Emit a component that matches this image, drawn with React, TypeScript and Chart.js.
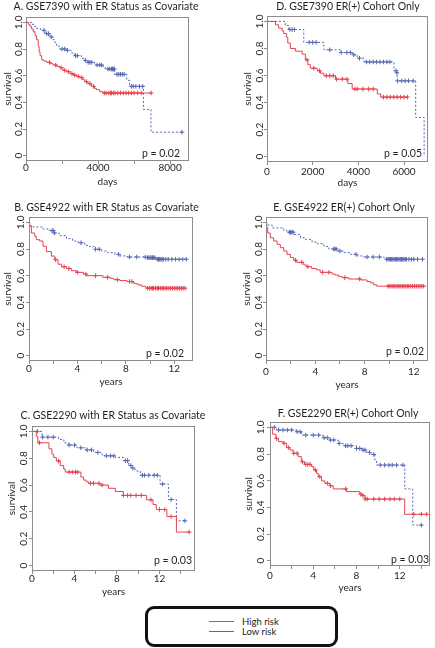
import React, { useEffect, useRef } from "react";
import { Chart, registerables } from "chart.js";

Chart.register(...registerables);

const FONT = "Lato, 'Noto Sans', sans-serif";
const TEXT = "#231f20";
const FRAME = "#8c8c8c";
const RED = "#e8414f";
const BLUE = "#5566b3";

// ---------- Panel A: GSE7390 with ER Status as Covariate (days)
const A_HIGH_T = [0, 130, 220, 310, 400, 500, 590, 680, 730, 780, 870, 960, 1140, 1350, 1510, 1700, 1880, 2050, 2250, 2450, 2620, 2800, 2980, 3150, 3260, 3440, 3630, 3800, 3900, 4090, 4270, 6950];
const A_HIGH_S = [1, 0.985, 0.97, 0.95, 0.93, 0.9, 0.87, 0.82, 0.78, 0.75, 0.72, 0.71, 0.7, 0.69, 0.68, 0.67, 0.66, 0.64, 0.63, 0.615, 0.605, 0.595, 0.585, 0.57, 0.555, 0.54, 0.52, 0.505, 0.495, 0.48, 0.47, 0.47];
const A_HIGH_CENS = [1300, 1650, 1950, 2150, 2350, 2550, 2700, 2900, 3100, 3350, 3550, 3750, 4350, 4450, 4600, 4700, 4750, 4850, 4950, 5100, 5250, 5400, 5550, 5700, 5850, 6000, 6200, 6400, 6950];
const A_LOW_T = [0, 320, 450, 590, 800, 1050, 1330, 1500, 1600, 1700, 1840, 2250, 2500, 2710, 3080, 3250, 3440, 3810, 4270, 4400, 4920, 5600, 5750, 6520, 6940, 8660];
const A_LOW_S = [1, 0.985, 0.97, 0.955, 0.94, 0.915, 0.89, 0.87, 0.85, 0.825, 0.8, 0.79, 0.77, 0.75, 0.73, 0.715, 0.7, 0.68, 0.67, 0.65, 0.61, 0.565, 0.52, 0.347, 0.176, 0.176];
const A_LOW_CENS = [1000, 1150, 1250, 1400, 2000, 2150, 2300, 2750, 2850, 3300, 3450, 3550, 3650, 3950, 4100, 4200, 4550, 4650, 4750, 4800, 4850, 4900, 5050, 5150, 5250, 5350, 5450, 5850, 5950, 6100, 6300, 6480, 8660];

// ---------- Panel D: GSE7390 ER(+) Cohort Only (days)
const D_HIGH_T = [0, 370, 510, 660, 730, 850, 910, 1025, 1245, 1540, 1680, 1790, 1900, 2200, 2340, 2490, 3000, 3540, 3730, 4830, 4980, 6150];
const D_HIGH_S = [1, 0.975, 0.95, 0.93, 0.91, 0.884, 0.84, 0.8, 0.78, 0.758, 0.716, 0.68, 0.654, 0.635, 0.617, 0.598, 0.573, 0.54, 0.5, 0.464, 0.44, 0.44];
const D_HIGH_CENS = [1750, 2050, 2300, 2600, 2750, 2900, 3050, 3300, 3500, 3850, 3950, 4200, 4450, 4650, 5100, 5250, 5400, 5550, 5700, 5850, 6000, 6150];
const D_LOW_T = [0, 800, 950, 1610, 2490, 3220, 3730, 3950, 4245, 5560, 5680, 5700, 6510, 6880];
const D_LOW_S = [1, 0.97, 0.94, 0.845, 0.79, 0.77, 0.753, 0.728, 0.7, 0.635, 0.62, 0.56, 0.29, 0];
const D_LOW_CENS = [1000, 1100, 1200, 1850, 2000, 2150, 2750, 3250, 3500, 3650, 3800, 4050, 4350, 4500, 4650, 4800, 4950, 5100, 5250, 5380, 5650, 5690, 5720, 5900, 6050, 6200, 6400];

// ---------- Panel B: GSE4922 with ER Status as Covariate (years)
const B_HIGH_T = [0, 0.05, 0.2, 0.47, 0.6, 0.88, 1.16, 1.44, 1.85, 2.13, 2.4, 2.68, 3.1, 3.5, 3.9, 4.5, 4.75, 6.1, 6.7, 7.0, 7.5, 8.1, 8.6, 8.75, 9.0, 9.3, 9.6, 9.7, 12.9];
const B_HIGH_S = [1, 0.97, 0.92, 0.896, 0.87, 0.86, 0.82, 0.78, 0.747, 0.72, 0.686, 0.667, 0.654, 0.637, 0.625, 0.612, 0.6, 0.588, 0.58, 0.57, 0.563, 0.556, 0.546, 0.54, 0.531, 0.521, 0.514, 0.506, 0.506];
const B_HIGH_CENS = [2.2, 2.9, 3.3, 4.0, 4.7, 5.5, 6.5, 7.3, 8.3, 8.5, 9.8, 9.95, 10.1, 10.2, 10.3, 10.45, 10.6, 10.7, 10.85, 11.0, 11.1, 11.25, 11.4, 11.55, 11.7, 11.85, 12.0, 12.15, 12.3, 12.45, 12.6, 12.75, 12.9];
const B_LOW_T = [0, 0.05, 0.33, 1.16, 1.7, 2.1, 2.5, 3.1, 3.6, 4.06, 4.6, 5.0, 5.4, 6.0, 6.5, 7.1, 7.5, 8.1, 9.7, 10.55, 13.0];
const B_LOW_S = [1, 0.975, 0.965, 0.95, 0.938, 0.92, 0.9, 0.877, 0.86, 0.847, 0.827, 0.817, 0.798, 0.785, 0.773, 0.76, 0.748, 0.74, 0.735, 0.723, 0.723];
const B_LOW_CENS = [1.9, 2.0, 2.1, 4.3, 5.5, 5.8, 7.4, 8.3, 8.9, 9.6, 9.8, 9.9, 10.0, 10.1, 10.2, 10.3, 10.4, 10.6, 10.7, 10.8, 10.9, 11.0, 11.1, 11.3, 11.5, 11.8, 12.1, 12.4, 12.7, 13.0];

// ---------- Panel E: GSE4922 ER(+) Cohort Only (years)
const E_HIGH_T = [0, 0.05, 0.14, 0.35, 0.62, 0.9, 1.16, 1.44, 1.7, 1.98, 2.25, 2.5, 3.06, 3.3, 3.7, 4.1, 4.4, 5.36, 5.6, 5.9, 6.2, 6.7, 7.7, 8.2, 8.5, 8.75, 9.0, 12.8];
const E_HIGH_S = [1, 0.96, 0.92, 0.884, 0.86, 0.835, 0.81, 0.785, 0.76, 0.736, 0.716, 0.7, 0.68, 0.667, 0.654, 0.644, 0.625, 0.612, 0.605, 0.593, 0.585, 0.575, 0.568, 0.556, 0.546, 0.531, 0.521, 0.521];
const E_HIGH_CENS = [2.4, 2.9, 3.4, 4.6, 5.1, 6.4, 7.6, 9.9, 10.0, 10.15, 10.3, 10.4, 10.55, 10.7, 10.8, 10.95, 11.1, 11.2, 11.35, 11.5, 11.6, 11.75, 11.9, 12.05, 12.2, 12.35, 12.5, 12.65, 12.8];
const E_LOW_T = [0, 0.05, 0.5, 1.44, 1.7, 2.25, 2.8, 3.2, 3.74, 4.14, 4.7, 5.1, 5.8, 6.3, 6.85, 7.4, 7.9, 9.56, 9.8, 12.7];
const E_LOW_S = [1, 0.98, 0.958, 0.94, 0.926, 0.909, 0.884, 0.872, 0.852, 0.84, 0.82, 0.8, 0.785, 0.773, 0.76, 0.748, 0.74, 0.735, 0.723, 0.723];
const E_LOW_CENS = [1.9, 2.0, 2.1, 2.2, 5.5, 5.6, 5.7, 6.0, 7.3, 8.2, 8.7, 9.2, 9.8, 9.9, 10.0, 10.1, 10.2, 10.3, 10.4, 10.5, 10.6, 10.7, 10.8, 10.9, 11.0, 11.1, 11.2, 11.3, 11.4, 11.6, 11.8, 12.0, 12.3, 12.7];

// ---------- Panel C: GSE2290 with ER Status as Covariate (years)
const C_HIGH_T = [0, 0.4, 0.55, 1.6, 1.88, 2.04, 2.29, 2.66, 2.98, 3.13, 4.6, 4.86, 5.1, 5.3, 6.4, 7.2, 7.84, 8.6, 10.8, 11.4, 11.7, 12.7, 13.6, 14.8];
const C_HIGH_S = [1, 0.964, 0.915, 0.87, 0.83, 0.806, 0.78, 0.746, 0.72, 0.697, 0.66, 0.637, 0.625, 0.613, 0.6, 0.576, 0.552, 0.523, 0.49, 0.455, 0.418, 0.366, 0.25, 0.25];
const C_HIGH_CENS = [0.7, 2.5, 3.5, 3.8, 4.1, 4.3, 5.5, 5.8, 6.3, 6.6, 8.6, 9.0, 9.3, 9.8, 10.3, 11.2, 12.0, 12.5, 13.1, 14.8];
const C_LOW_T = [0, 0.94, 2.5, 3.0, 3.45, 4.23, 5.0, 5.8, 6.6, 7.84, 8.6, 9.1, 9.4, 9.7, 10.2, 12.06, 12.85, 13.6, 14.4];
const C_LOW_S = [1, 0.957, 0.94, 0.915, 0.898, 0.878, 0.862, 0.843, 0.818, 0.806, 0.782, 0.746, 0.727, 0.705, 0.673, 0.608, 0.492, 0.334, 0.334];
const C_LOW_CENS = [0.5, 1.0, 1.5, 2.0, 3.5, 4.0, 4.6, 5.2, 5.6, 6.2, 7.0, 7.4, 7.7, 8.8, 9.0, 9.3, 9.5, 10.4, 10.6, 11.0, 11.5, 11.8, 12.3, 13.1, 14.4];

// ---------- Panel F: GSE2290 ER(+) Cohort Only (years)
const F_HIGH_T = [0, 0.25, 0.55, 0.77, 1.23, 1.54, 1.85, 2.15, 2.6, 2.9, 3.2, 3.85, 4.06, 4.3, 4.46, 4.77, 5.08, 5.54, 5.85, 7.08, 8.3, 8.6, 8.8, 12.46, 14.5];
const F_HIGH_S = [1, 0.948, 0.917, 0.893, 0.88, 0.848, 0.83, 0.805, 0.78, 0.742, 0.722, 0.705, 0.68, 0.655, 0.63, 0.598, 0.58, 0.562, 0.538, 0.518, 0.498, 0.488, 0.462, 0.348, 0.348];
const F_HIGH_CENS = [0.6, 1.3, 1.7, 2.2, 2.5, 3.0, 3.3, 3.5, 3.7, 4.2, 4.6, 5.3, 5.6, 7.0, 8.4, 8.6, 8.8, 9.0, 9.6, 10.1, 10.6, 11.1, 11.5, 12.0, 13.3, 14.0, 14.5];
const F_LOW_T = [0, 0.6, 2.46, 2.9, 4.9, 5.5, 6.3, 6.77, 8.0, 8.6, 8.9, 9.23, 9.7, 9.85, 12.46, 13.2, 14.0];
const F_LOW_S = [1, 0.98, 0.967, 0.942, 0.922, 0.905, 0.88, 0.862, 0.842, 0.83, 0.812, 0.797, 0.755, 0.717, 0.538, 0.267, 0.267];
const F_LOW_CENS = [0.4, 0.8, 1.2, 1.6, 2.0, 2.5, 2.8, 3.3, 4.0, 4.5, 5.0, 5.3, 5.6, 5.9, 6.4, 7.0, 7.2, 7.5, 8.0, 8.3, 8.6, 8.8, 9.2, 9.6, 10.2, 10.6, 11.0, 11.3, 11.7, 12.3, 14.0];

// ---------- axes
const Y_TICKS = [0, 0.2, 0.4, 0.6, 0.8, 1.0];
const DAY_TICKS_A = [0, 2000, 4000, 6000, 8000];
const DAY_LABELS_A = [0, 4000, 8000];
const DAY_TICKS_D = [0, 2000, 4000, 6000];
const DAY_LABELS_D = [0, 2000, 4000, 6000];
const YEAR_TICKS_12 = [0, 2, 4, 6, 8, 10, 12];
const YEAR_TICKS_14 = [0, 2, 4, 6, 8, 10, 12, 14];
const YEAR_LABELS = [0, 4, 8, 12];

const LEGEND_LABELS = ["High risk", "Low risk"];

type Panel = {
  id: string;
  title: string;
  p: string;
  xLabel: string;
  xMax: number;
  xTicks: number[];
  xLabels: number[];
  highT: number[]; highS: number[]; highC: number[];
  lowT: number[]; lowS: number[]; lowC: number[];
  canvas: [number, number, number, number];
  box: [number, number, number, number];
  titleAt: [number, number];
  pAt: [number, number];
  yTitlePad: number; xTitlePad: number; xTickPad: number; yTickPad: number;
};

const PANELS: Panel[] = [
  { id: "A", title: "A. GSE7390 with ER Status as Covariate", p: "p = 0.02", xLabel: "days", xMax: 9050,
    xTicks: DAY_TICKS_A, xLabels: DAY_LABELS_A,
    highT: A_HIGH_T, highS: A_HIGH_S, highC: A_HIGH_CENS, lowT: A_LOW_T, lowS: A_LOW_S, lowC: A_LOW_CENS,
    canvas: [0, 0, 217, 195], box: [26, 17, 189, 161], titleAt: [106, 7], pAt: [180, 154],
    yTitlePad: 1.5, xTitlePad: 7.3, xTickPad: -2, yTickPad: -2.3 },
  { id: "D", title: "D. GSE7390 ER(+) Cohort Only", p: "p = 0.05", xLabel: "days", xMax: 7050,
    xTicks: DAY_TICKS_D, xLabels: DAY_LABELS_D,
    highT: D_HIGH_T, highS: D_HIGH_S, highC: D_HIGH_CENS, lowT: D_LOW_T, lowS: D_LOW_S, lowC: D_LOW_CENS,
    canvas: [217, 0, 218, 195], box: [267, 16, 428, 162], titleAt: [348, 7], pAt: [422, 154],
    yTitlePad: 24.5, xTitlePad: 6.3, xTickPad: 1, yTickPad: -2.7 },
  { id: "B", title: "B. GSE4922 with ER Status as Covariate", p: "p = 0.02", xLabel: "years", xMax: 13.55,
    xTicks: YEAR_TICKS_12, xLabels: YEAR_LABELS,
    highT: B_HIGH_T, highS: B_HIGH_S, highC: B_HIGH_CENS, lowT: B_LOW_T, lowS: B_LOW_S, lowC: B_LOW_CENS,
    canvas: [0, 195, 217, 200], box: [29, 217, 193, 361], titleAt: [106.5, 207.7], pAt: [184, 353.3],
    yTitlePad: 2, xTitlePad: 7.3, xTickPad: -1.7, yTickPad: -2 },
  { id: "E", title: "E. GSE4922 ER(+) Cohort Only", p: "p = 0.02", xLabel: "years", xMax: 13.15,
    xTicks: YEAR_TICKS_12, xLabels: YEAR_LABELS,
    highT: E_HIGH_T, highS: E_HIGH_S, highC: E_HIGH_CENS, lowT: E_LOW_T, lowS: E_LOW_S, lowC: E_LOW_CENS,
    canvas: [217, 195, 218, 200], box: [266, 217, 428, 361], titleAt: [344, 207.7], pAt: [424, 351.7],
    yTitlePad: 24, xTitlePad: 4, xTickPad: 1.7, yTickPad: -2.3 },
  { id: "C", title: "C. GSE2290 with ER Status as Covariate", p: "p = 0.03", xLabel: "years", xMax: 15.35,
    xTicks: YEAR_TICKS_14, xLabels: YEAR_LABELS,
    highT: C_HIGH_T, highS: C_HIGH_S, highC: C_HIGH_CENS, lowT: C_LOW_T, lowS: C_LOW_S, lowC: C_LOW_CENS,
    canvas: [0, 395, 217, 205], box: [32, 426, 195, 571], titleAt: [113, 415.7], pAt: [192, 560.7],
    yTitlePad: 5.7, xTitlePad: 2.5, xTickPad: -1.7, yTickPad: -1.6 },
  { id: "F", title: "F. GSE2290 ER(+) Cohort Only", p: "p = 0.03", xLabel: "years", xMax: 14.8,
    xTicks: YEAR_TICKS_14, xLabels: YEAR_LABELS,
    highT: F_HIGH_T, highS: F_HIGH_S, highC: F_HIGH_CENS, lowT: F_LOW_T, lowS: F_LOW_S, lowC: F_LOW_CENS,
    canvas: [217, 395, 218, 205], box: [270, 422, 430, 566], titleAt: [348, 413.3], pAt: [429, 559.3],
    yTitlePad: 25.5, xTitlePad: 6.3, xTickPad: 0.5, yTickPad: -0.7 },
];

function stepAt(T: number[], S: number[], t: number): number {
  let v = S[0];
  for (let i = 0; i < T.length; i++) if (T[i] <= t) v = S[i];
  return v;
}

const decorPlugin = {
  id: "decor",
  afterDraw(chart: any, _args: any, opts: any) {
    const { ctx, chartArea: a } = chart;
    ctx.save();
    ctx.strokeStyle = FRAME;
    ctx.lineWidth = 1;
    ctx.strokeRect(a.left + 0.5, a.top + 0.5, a.right - a.left - 1, a.bottom - a.top - 1);
    ctx.fillStyle = TEXT;
    ctx.textBaseline = "middle";
    ctx.textAlign = "center";
    ctx.font = `${opts.titleSize}px ${FONT}`;
    ctx.fillText(opts.title, opts.titleX, opts.titleY);
    ctx.textAlign = "right";
    ctx.font = `${opts.pSize}px ${FONT}`;
    ctx.fillText(opts.p, opts.pX, opts.pY);
    ctx.restore();
  },
};

function PanelChart({ cfg }: { cfg: Panel }) {
  const ref = useRef<HTMLCanvasElement | null>(null);
  useEffect(() => {
    if (!ref.current) return;
    const [cx, cy, cw, ch] = cfg.canvas;
    const [L, T, R, B] = cfg.box;
    const line = (Tt: number[], Ss: number[]) => Tt.map((t, i) => ({ x: t, y: Ss[i] }));
    const cens = (Tt: number[], Ss: number[], C: number[]) => C.map((t) => ({ x: t, y: stepAt(Tt, Ss, t) }));
    const grid = { display: true, drawOnChartArea: false, drawTicks: true, tickLength: 3, color: FRAME, lineWidth: 1 };
    const chart = new Chart(ref.current, {
      type: "line",
      data: {
        datasets: [
          { label: "High risk", data: line(cfg.highT, cfg.highS), stepped: "before", borderColor: RED, borderWidth: 1, pointRadius: 0, fill: false },
          { label: "High risk censored", data: cens(cfg.highT, cfg.highS, cfg.highC), showLine: false, pointStyle: "cross", pointRadius: 2.3, borderColor: RED, backgroundColor: RED, pointBorderWidth: 1 },
          { label: "Low risk", data: line(cfg.lowT, cfg.lowS), stepped: "before", borderColor: BLUE, borderWidth: 1, borderDash: [2, 2], pointRadius: 0, fill: false },
          { label: "Low risk censored", data: cens(cfg.lowT, cfg.lowS, cfg.lowC), showLine: false, pointStyle: "cross", pointRadius: 2.3, borderColor: BLUE, backgroundColor: BLUE, pointBorderWidth: 1 },
        ] as any,
      },
      options: {
        animation: false,
        responsive: false,
        maintainAspectRatio: false,
        devicePixelRatio: 1,
        events: [],
        layout: { padding: { left: 0, top: T - cy, right: cx + cw - R, bottom: 0 } },
        plugins: {
          legend: { display: false },
          tooltip: { enabled: false },
          title: { display: false },
          decor: {
            title: cfg.title, titleX: cfg.titleAt[0] - cx, titleY: cfg.titleAt[1] - cy, titleSize: 10.5,
            p: cfg.p, pX: cfg.pAt[0] - cx, pY: cfg.pAt[1] - cy, pSize: 10.5,
          },
        } as any,
        scales: {
          x: {
            type: "linear",
            min: 0,
            max: cfg.xMax,
            afterBuildTicks: (s: any) => { s.ticks = cfg.xTicks.map((v) => ({ value: v })); },
            afterFit: (s: any) => { s.height = cy + ch - B; },
            grid,
            border: { display: false },
            ticks: {
              autoSkip: false, minRotation: 0, maxRotation: 0, padding: cfg.xTickPad, color: TEXT,
              font: { family: FONT, size: 10 },
              callback: (v: any) => (cfg.xLabels.includes(v) ? String(v) : ""),
            },
            title: { display: true, text: cfg.xLabel, color: TEXT, font: { family: FONT, size: 10 }, padding: { top: 0, bottom: cfg.xTitlePad } },
          },
          y: {
            type: "linear",
            min: -0.04,
            max: 1.04,
            afterBuildTicks: (s: any) => { s.ticks = Y_TICKS.map((v) => ({ value: v })); },
            afterFit: (s: any) => { s.width = L - cx; },
            grid,
            border: { display: false },
            ticks: {
              autoSkip: false, minRotation: 90, maxRotation: 90, crossAlign: "center", padding: cfg.yTickPad, color: TEXT,
              font: { family: FONT, size: 10 },
              callback: (v: any) => (v === 0 ? "0" : Number(v).toFixed(1)),
            },
            title: { display: true, text: "survival", color: TEXT, font: { family: FONT, size: 10 }, padding: { top: cfg.yTitlePad, bottom: 0 } },
          },
        },
      } as any,
      plugins: [decorPlugin],
    });
    return () => chart.destroy();
  }, [cfg]);
  const [cx, cy, cw, ch] = cfg.canvas;
  return (
    <canvas
      ref={ref}
      width={cw}
      height={ch}
      style={{ position: "absolute", left: cx, top: cy, width: cw, height: ch }}
    />
  );
}

export default function App() {
  return (
    <div style={{ position: "absolute", left: 0, top: 0, width: 435, height: 648, background: "#fff", overflow: "hidden", fontFamily: FONT }}>
      {PANELS.map((p) => (
        <PanelChart key={p.id} cfg={p} />
      ))}
      <div
        style={{
          position: "absolute", left: 145, top: 606, width: 193, height: 41, boxSizing: "border-box",
          border: "3px solid #111", borderRadius: 9, background: "#fff",
        }}
      >
        {LEGEND_LABELS.map((lab, i) => (
          <React.Fragment key={lab}>
            <div style={{ position: "absolute", left: 61, top: 12 + i * 10, width: 25, height: 1, background: i === 0 ? RED : BLUE }} />
            <div style={{ position: "absolute", left: 94, top: 6 + i * 10, height: 13, lineHeight: "13px", fontSize: 9.5, color: TEXT, whiteSpace: "nowrap" }}>{lab}</div>
          </React.Fragment>
        ))}
      </div>
    </div>
  );
}
